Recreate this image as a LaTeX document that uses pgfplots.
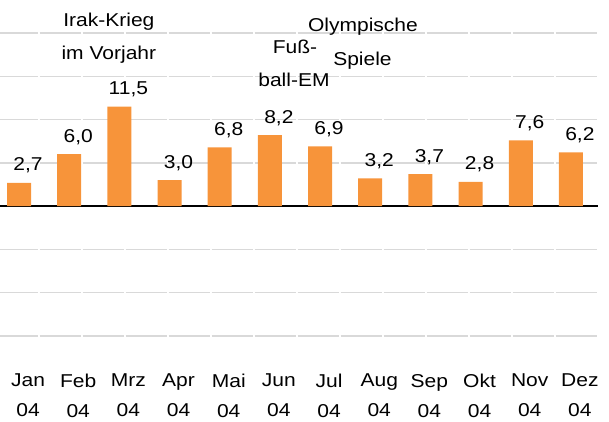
\documentclass[border=0pt]{standalone}
\usepackage{fontspec}
\setmainfont{Liberation Sans}[FakeStretch=1.13]
\usepackage{pgfplots}
\pgfplotsset{compat=1.18}
\definecolor{barorange}{RGB}{247,148,58}
\definecolor{gridgray}{RGB}{217,217,217}
\newcommand\lab{\fontsize{18.6}{30}\selectfont}
\begin{document}
\begin{tikzpicture}
\useasboundingbox (0pt,-86pt) rectangle (609pt,336pt);
\begin{axis}[
  at={(0pt,0pt)}, anchor=south west,
  scale only axis, width=598pt, height=303pt,
  xmin=-0.38, xmax=11.54, ymin=-15, ymax=20,
  clip=false,
  axis line style={draw=none},
  tick style={draw=none},
  major tick length=0pt,
  ytick={-15,-10,-5,5,10,15,20},
  yticklabels={},
  ymajorgrids,
  grid style={gridgray, line width=1.5pt, dash pattern=on 41.5pt off 1.5pt, dash phase=3.5pt},
  extra y ticks={0},
  extra y tick labels={},
  extra y tick style={grid style={black, line width=2pt, solid}},
  xtick={0,...,11},
  xticklabels={{Jan\\04},{Feb\\04},{Mrz\\04},{Apr\\04},{Mai\\04},{Jun\\04},{Jul\\04},{Aug\\04},{Sep\\04},{Okt\\04},{Nov\\04},{Dez\\04}},
  xticklabel style={align=center, anchor=north, inner sep=0pt, yshift=-38pt, xshift=9pt, font=\lab},
  /pgf/number format/assume math mode=true,
]
\addplot[ybar, bar width=24pt, fill=barorange, draw=none,
  nodes near coords={\pgfmathprintnumber[fixed,fixed zerofill,precision=1,use comma]{\pgfplotspointmeta}},
  every node near coord/.append style={anchor=base, yshift=12pt, xshift=9pt, inner sep=0pt, font=\lab, text=black}]
  coordinates {(0,2.7)(1,6.0)(2,11.5)(3,3.0)(4,6.8)(5,8.2)(6,6.9)(7,3.2)(8,3.7)(9,2.8)(10,7.6)(11,6.2)};
\node[anchor=base, inner sep=0pt, font=\lab] at (axis cs:1.79,20.7) {Irak-Krieg};
\node[anchor=base, inner sep=0pt, font=\lab] at (axis cs:1.79,16.95) {im Vorjahr};
\node[anchor=base, inner sep=0pt, font=\lab] at (axis cs:5.50,17.6) {Fuß-};
\node[anchor=base, inner sep=0pt, font=\lab] at (axis cs:5.48,13.78) {ball-EM};
\node[anchor=base, inner sep=0pt, font=\lab] at (axis cs:6.855,20.13) {Olympische};
\node[anchor=base, inner sep=0pt, font=\lab] at (axis cs:6.845,16.29) {Spiele};
\end{axis}
\end{tikzpicture}
\end{document}
